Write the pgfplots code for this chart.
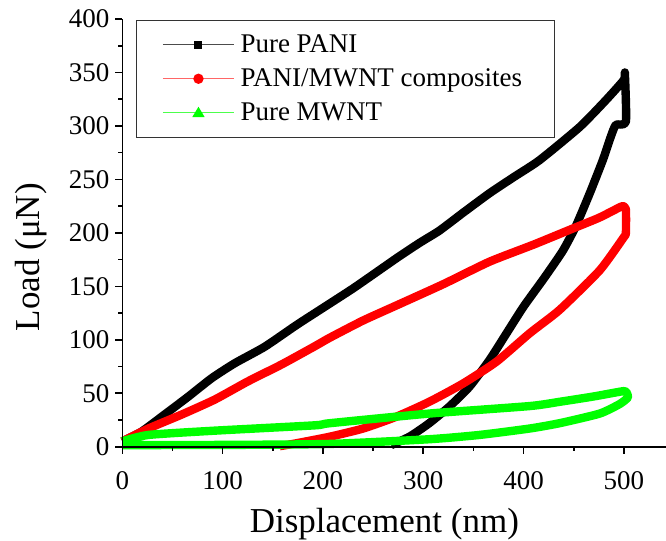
\documentclass[border=0pt]{standalone}
\usepackage{fontspec}
\setmainfont{Liberation Serif}
\usepackage{pgfplots}
\pgfplotsset{compat=1.18}

\begin{document}
\begin{tikzpicture}
\begin{axis}[
  name=ax,
  scale only axis,
  width=272pt, height=214pt,
  xmin=0, xmax=542, ymin=0, ymax=400,
  axis lines=left,
  axis line style={-, line width=0.8pt},
  axis on top,
  clip=false,
  xtick={0,100,200,300,400,500},
  xticklabels={0,100,200,300,400,500},
  ytick={0,50,100,150,200,250,300,350,400},
  yticklabels={0,50,100,150,200,250,300,350,400},
  minor xtick={50,150,250,350,450},
  minor ytick={25,75,...,375},
  tick align=outside,
  major tick length=3.5pt,
  minor tick length=2pt,
  tick style={black, line width=0.8pt},
  ticklabel style={font=\rmfamily\fontsize{13.5}{16}\selectfont},
  xticklabel style={yshift=-5.5pt},
  yticklabel style={xshift=0.5pt},
  xlabel={Displacement (nm)},
  ylabel={Load (μN)},
  xlabel style={font=\fontsize{17.5}{20}\selectfont, at={(axis description cs:0.482,-0.201)}, anchor=base},
  ylabel style={font=\fontsize{17.5}{20}\selectfont, at={(axis description cs:-0.153,0.443)}, anchor=base},
  legend cell align=left,
  legend style={at={(axis description cs:0.025,0.998)}, anchor=north west,
    draw=black!80, line width=0.5pt,
    font=\rmfamily\fontsize{13.5}{15}\selectfont,
    nodes={inner sep=3pt},
    inner xsep=13pt, inner ysep=4pt, row sep=0.6pt},
  every axis plot/.append style={line width=4.2pt, line join=round, smooth, tension=0.35},
]
\addplot[black,
  legend image code/.code={
    \draw[black!70, line width=0.6pt] (0pt,0pt) -- (35.5pt,0pt);
    \path[fill=black, draw=none] (15.75pt,-2pt) rectangle (19.75pt,2pt);}]
coordinates {
(0,5) (19,14) (42,30) (66,47) (89,64) (112,78) (142,93.5) (174,114) (207,134)
(230,148) (250,161) (276,178) (297,191) (316,202) (340,219) (366,237) (390,252)
(416,268) (456,299) (482,324) (500,343) (501,349) (502,304) (492,301) (487,290)
(479,268) (466,237) (452,206) (439,183) (420,157) (400,131) (383,106) (366,81)
(346,56) (326,37.5) (306,22) (286.5,9.5) (268,1.5)
};
\addlegendentry{Pure PANI}
\addplot[red,
  legend image code/.code={
    \draw[red!60, line width=0.6pt] (0pt,0pt) -- (35.5pt,0pt);
    \path[fill=red, draw=none] (17.75pt,0pt) circle (2.6pt);}]
coordinates {
(0,5) (26,17) (59,30) (92,44) (125,61) (159,77) (192,94) (207,102) (240,118)
(273,132) (320,152) (366,173) (410,189) (449,204) (475,214) (494,223) (499,225)
(502,222) (502,200) (500,196) (476,165) (436,128) (406,106) (373,79.5) (339.5,59)
(306,42) (273,28) (240,17) (207,9.4) (174,3.3) (157,0.5)
};
\addlegendentry{PANI/MWNT composites\hspace{16pt}}
\addplot[green,
  legend image code/.code={
    \draw[green!70, line width=0.6pt] (0pt,0pt) -- (35.5pt,0pt);
    \path[fill=green, draw=none] (17.75pt,3pt) -- ++(-3.1pt,-5.2pt) -- ++(6.2pt,0pt) -- cycle;}]
coordinates {
(0,5) (26,11) (92,15) (192,20) (207,22) (306,31) (406,38) (436,42) (470,47)
(500,52) (503,50) (504,46) (496,40) (476,31) (436,22) (406,17) (356,11) (306,7)
(207,2.6) (107,1.7) (0,1.5)
};
\addlegendentry{Pure MWNT}
\end{axis}
\pgfresetboundingbox
\path[use as bounding box] ([xshift=-61.2pt,yshift=-47.1pt]ax.south west) rectangle ([yshift=9.5pt]ax.north east);
\end{tikzpicture}
\end{document}
